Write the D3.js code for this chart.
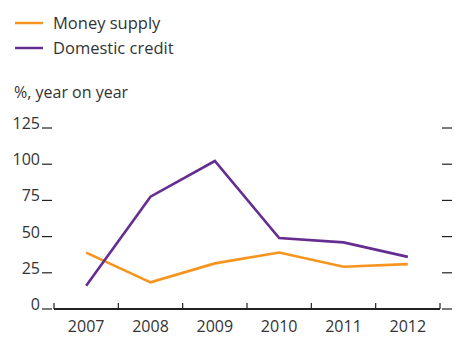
<!DOCTYPE html>
<html><head><meta charset="utf-8">
<script src="https://cdn.jsdelivr.net/npm/d3@7"></script>
<style>html,body{margin:0;padding:0;background:#fff;}svg{display:block;}</style>
</head><body>
<script>
const years = ["2007","2008","2009","2010","2011","2012"];
const moneySupply = [38.9, 18.4, 31.5, 39, 29.2, 31];
const domesticCredit = [16, 77.6, 102.2, 49, 46, 36];
const yTicks = [0, 25, 50, 75, 100, 125];
const seriesNames = ["Money supply", "Domestic credit"];
const seriesColors = ["#F7941D", "#662D91"];
const unitLabel = "%, year on year";

const W = 455, H = 337;
const font = "'Open Sans', sans-serif";
const textColor = "#333";
const svg = d3.select("body").append("svg").attr("width", W).attr("height", H);

const x = d3.scaleBand().domain(years).range([54, 440]);
const y = d3.scaleLinear().domain([0, 125]).range([309, 128]);

// legend
seriesNames.forEach((n, i) => {
  const ly = 23 + i * 25;
  svg.append("line").attr("x1", 15).attr("x2", 43).attr("y1", ly).attr("y2", ly)
    .attr("stroke", seriesColors[i]).attr("stroke-width", 2.5);
  svg.append("text").attr("x", 53).attr("y", ly + 6).text(n)
    .attr("font-family", font).attr("font-size", 16.5).attr("fill", textColor);
});
svg.append("text").attr("x", 14).attr("y", 98).text(unitLabel)
  .attr("font-family", font).attr("font-size", 16).attr("fill", textColor);

// left/right ticks & labels
const gy = svg.append("g");
yTicks.forEach(t => {
  gy.append("line").attr("x1", 42).attr("x2", 52).attr("y1", y(t)).attr("y2", y(t))
    .attr("stroke", "#222").attr("stroke-width", 1.2);
  gy.append("line").attr("x1", 442).attr("x2", 452).attr("y1", y(t)).attr("y2", y(t))
    .attr("stroke", "#222").attr("stroke-width", 1.2);
  gy.append("text").attr("x", 40).attr("y", y(t) + 1).attr("text-anchor", "end")
    .text(t).attr("font-family", font).attr("font-size", 16).attr("fill", textColor);
});

// x axis
const xb = svg.append("g").attr("transform", `translate(0,${y(0)})`);
xb.append("line").attr("x1", 54).attr("x2", 440).attr("y1", 0).attr("y2", 0)
  .attr("stroke", "#222").attr("stroke-width", 2.2);
const bounds = years.map(yr => x(yr)).concat([x(years[years.length - 1]) + x.bandwidth()]);
bounds.forEach(b => {
  xb.append("line").attr("x1", b).attr("x2", b).attr("y1", 0).attr("y2", -6)
    .attr("stroke", "#222").attr("stroke-width", 1.2);
});
years.forEach(yr => {
  svg.append("text").attr("x", x(yr) + x.bandwidth() / 2).attr("y", 332)
    .attr("text-anchor", "middle").text(yr)
    .attr("font-family", font).attr("font-size", 16).attr("fill", textColor);
});

// lines
const line = d3.line().x((d, i) => x(years[i]) + x.bandwidth() / 2).y(d => y(d));
[moneySupply, domesticCredit].forEach((s, i) => {
  svg.append("path").datum(s).attr("d", line).attr("fill", "none")
    .attr("stroke", seriesColors[i]).attr("stroke-width", 2.6)
    .attr("stroke-linejoin", "miter");
});
</script>
</body></html>
